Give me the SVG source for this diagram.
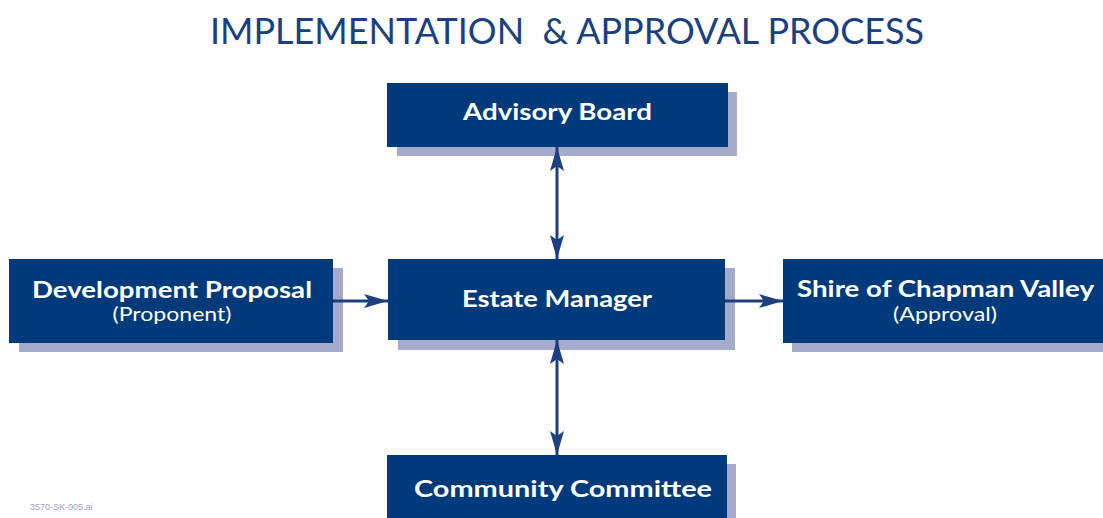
<svg xmlns="http://www.w3.org/2000/svg" width="1103" height="518" viewBox="0 0 1103 518">
  <style>
    .title { font-family: Lato, "Open Sans", "Liberation Sans", sans-serif; font-size: 37px; fill: #1c3f80; white-space: pre; }
    .box { fill: #003a7a; }
    .shadow { fill: #a4abcc; }
    .label { font-family: Lato, "Open Sans", "Liberation Sans", sans-serif; font-weight: bold; font-size: 22px; fill: #ffffff; text-anchor: middle; }
    .sub { font-family: Lato, "Open Sans", "Liberation Sans", sans-serif; font-size: 20px; fill: #ffffff; text-anchor: middle; }
    .conn { stroke: #1c3f80; stroke-width: 3; fill: none; }
    .foot { font-family: "Liberation Sans", Arial, sans-serif; font-size: 9px; fill: #9aa0c4; }
  </style>
  <defs>
    <marker id="arrow" viewBox="0 0 24 14" refX="24" refY="7" markerWidth="24" markerHeight="14" markerUnits="userSpaceOnUse" orient="auto-start-reverse">
      <path d="M0,0 L24,7 L0,14 L5,7 Z" fill="#1c3f80"/>
    </marker>
  </defs>

  <rect width="1103" height="518" fill="#ffffff"/>

  <text class="title" x="210" y="44" textLength="714" lengthAdjust="spacingAndGlyphs">IMPLEMENTATION  &amp; APPROVAL PROCESS</text>

  <g id="advisory-board">
    <rect class="shadow" x="397" y="92" width="340" height="64"/>
    <rect class="box" x="387" y="83" width="341" height="64"/>
    <text class="label" x="557.5" y="120" textLength="189" lengthAdjust="spacingAndGlyphs">Advisory Board</text>
  </g>

  <g id="development-proposal">
    <rect class="shadow" x="19" y="268" width="324" height="84"/>
    <rect class="box" x="9" y="259" width="324" height="84"/>
    <text class="label" x="172" y="298" textLength="280" lengthAdjust="spacingAndGlyphs">Development Proposal</text>
    <text class="sub" x="172" y="321" textLength="119" lengthAdjust="spacingAndGlyphs">(Proponent)</text>
  </g>

  <g id="estate-manager">
    <rect class="shadow" x="398" y="268" width="337" height="82"/>
    <rect class="box" x="388" y="259" width="337" height="81"/>
    <text class="label" x="557" y="307" textLength="190" lengthAdjust="spacingAndGlyphs">Estate Manager</text>
  </g>

  <g id="shire-of-chapman-valley">
    <rect class="shadow" x="792" y="268" width="324" height="84"/>
    <rect class="box" x="783" y="259" width="324" height="84"/>
    <text class="label" x="945.5" y="297" textLength="297" lengthAdjust="spacingAndGlyphs">Shire of Chapman Valley</text>
    <text class="sub" x="945" y="321" textLength="104" lengthAdjust="spacingAndGlyphs">(Approval)</text>
  </g>

  <g id="community-committee">
    <rect class="shadow" x="397" y="464" width="339" height="60"/>
    <rect class="box" x="387" y="455" width="340" height="70"/>
    <text class="label" x="563" y="497" textLength="298" lengthAdjust="spacingAndGlyphs">Community Committee</text>
  </g>

  <!-- connectors sit above the drop shadows -->
  <g id="connectors">
    <line class="conn" x1="557" y1="147" x2="557" y2="259" marker-start="url(#arrow)" marker-end="url(#arrow)"/>
    <line class="conn" x1="557" y1="340" x2="557" y2="455" marker-start="url(#arrow)" marker-end="url(#arrow)"/>
    <line class="conn" x1="333" y1="301" x2="388" y2="301" marker-end="url(#arrow)"/>
    <line class="conn" x1="725" y1="301" x2="783" y2="301" marker-end="url(#arrow)"/>
  </g>

  <text class="foot" x="30" y="510">3570-SK-005.ai</text>
</svg>
